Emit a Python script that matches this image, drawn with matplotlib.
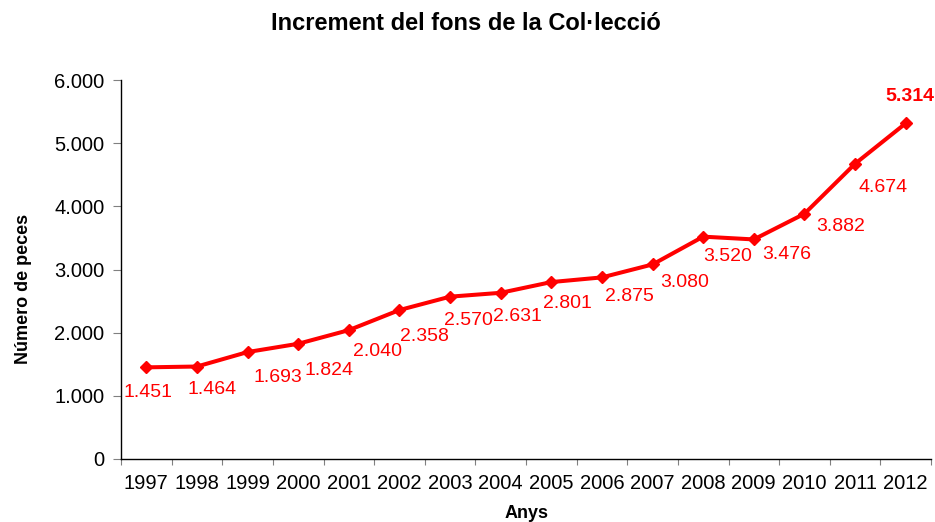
import matplotlib
matplotlib.use("Agg")
import matplotlib.pyplot as plt
from matplotlib.ticker import FixedLocator, FuncFormatter

years = ["1997", "1998", "1999", "2000", "2001", "2002", "2003", "2004",
         "2005", "2006", "2007", "2008", "2009", "2010", "2011", "2012"]
peces = [1451, 1464, 1693, 1824, 2040, 2358, 2570, 2631,
         2801, 2875, 3080, 3520, 3476, 3882, 4674, 5314]
y_ticks = [0, 1000, 2000, 3000, 4000, 5000, 6000]

# label offsets in pixels (dx right, dy down), as placed in the original
label_offsets = [(2, 25), (15, 23), (30, 25), (31, 27), (29, 21), (25, 26),
                 (18, 24), (17, 24), (16, 21), (27, 19), (32, 18), (24, 20),
                 (33, 15), (36, 13), (28, 24), (4, -27)]

def fmt_num(v):
    return f"{int(v):,}".replace(",", ".")

plt.rcParams["font.family"] = ["Liberation Sans", "DejaVu Sans"]
red = "#ff0000"

fig = plt.figure(figsize=(9.35, 5.22), dpi=100)
ax = fig.add_axes([121 / 935, 1 - 459 / 522, 810 / 935, 379 / 522])

x = list(range(len(years)))
ax.plot(x, peces, color=red, lw=2.9, marker="D", markersize=6.5, zorder=3)

px = 72 / 100
for i, v in enumerate(peces):
    dx, dy = label_offsets[i]
    last = i == len(peces) - 1
    ax.annotate(fmt_num(v), (x[i], v), xytext=(dx * px, -dy * px),
                textcoords="offset points", ha="center", va="center",
                color=red, fontsize=14, fontweight="bold" if last else "normal",
                annotation_clip=False)

ax.set_xlim(-0.5, len(years) - 0.5)
ax.set_ylim(0, 6000)
ax.set_xticks(x)
ax.set_xticklabels(years)
ax.xaxis.set_minor_locator(FixedLocator([i - 0.5 for i in range(len(years) + 1)]))
ax.tick_params(axis="x", which="major", length=0, pad=11, labelsize=14.5)
ax.tick_params(axis="x", which="minor", length=4, color="#808080", width=0.8)
ax.set_yticks(y_ticks)
ax.yaxis.set_major_formatter(FuncFormatter(lambda v, p: fmt_num(v)))
ax.tick_params(axis="y", length=6, color="#808080", width=0.8, pad=6, labelsize=14.5)

ax.spines["top"].set_visible(False)
ax.spines["right"].set_visible(False)
ax.spines["left"].set_linewidth(1.0)
ax.spines["bottom"].set_linewidth(1.0)

fig.text(466 / 935, 1 - 23 / 522, "Increment del fons de la Col·lecció",
         ha="center", va="center", fontsize=17, fontweight="bold")
fig.text(24 / 935, 1 - 289 / 522, "Número de peces", rotation=90,
         ha="center", va="center", fontsize=13, fontweight="bold")
fig.text(527 / 935, 1 - 513 / 522, "Anys", ha="center", va="center",
         fontsize=13, fontweight="bold")

fig.savefig("out.png", dpi=100)
